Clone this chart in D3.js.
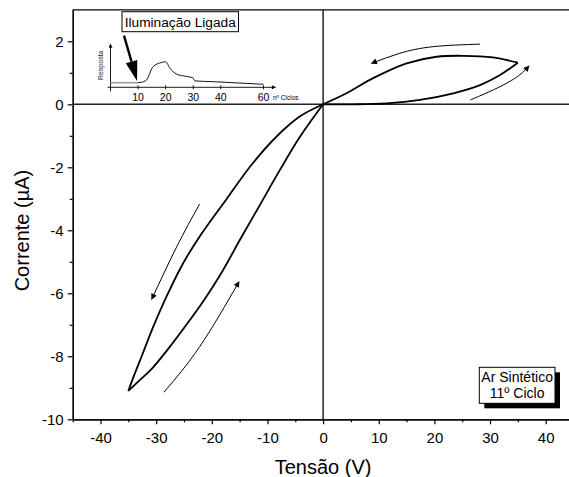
<!DOCTYPE html>
<html>
<head>
<meta charset="utf-8">
<script src="https://cdn.jsdelivr.net/npm/d3@7"></script>
<style>
  html, body { margin: 0; padding: 0; background: #fff; }
  svg { display: block; font-family: "Liberation Sans", Arial, sans-serif; }
</style>
</head>
<body>
<svg id="chart" width="569" height="477"></svg>
<script>
// I–V hysteresis loop, synthetic air, 11th cycle
// Forward sweep 0 → +35 V (lower branch)
const posFwdV = [0, 5.4, 11.4, 17.4, 23.4, 28.2, 31.8, 35.0];
const posFwdI = [0, 0.0, 0.03, 0.14, 0.35, 0.61, 0.93, 1.32];
// Return sweep +35 V → 0 (upper branch)
const posRetV = [35.0, 30.5, 25.2, 20.4, 15.0, 9.0, 4.2, 0];
const posRetI = [1.32, 1.49, 1.54, 1.51, 1.30, 0.83, 0.35, 0];
// Sweep 0 → -35 V
const negFwdV = [0, -4.2, -8.4, -13.0, -17.4, -22.0, -25.0, -28.0, -30.5, -32.5, -34.0, -35.0];
const negFwdI = [0, -0.39, -1.03, -1.95, -3.02, -4.15, -5.0, -6.05, -7.05, -7.95, -8.62, -9.1];
// Return sweep -35 V → 0
const negRetV = [-35.0, -32.9, -30.8, -27.55, -23.95, -21.26, -18.2, -14.97, -11.37, -7.78, -4.19, 0];
const negRetI = [-9.1, -8.75, -8.40, -7.70, -6.85, -6.18, -5.33, -4.31, -3.20, -2.09, -1.04, 0];

// Sweep-direction arrows (V, I)
const arrowTopV = [28.2, 19.8, 13.8, 8.7];
const arrowTopI = [1.91, 1.83, 1.62, 1.30];
const arrowRightV = [26.5, 31.8, 35.3, 37.0];
const arrowRightI = [0.14, 0.56, 0.93, 1.22];
const arrowLeftV = [-22.2, -26.3, -30.8];
const arrowLeftI = [-3.17, -4.52, -6.19];
const arrowLowV = [-28.6, -22.2, -15.1];
const arrowLowI = [-9.14, -7.70, -5.63];

// Axis ticks
const xMajor = [-40, -30, -20, -10, 0, 10, 20, 30, 40];
const xMinor = [-45, -35, -25, -15, -5, 5, 15, 25, 35, 45];
const yMajor = [-10, -8, -6, -4, -2, 0, 2];
const yMinor = [-9, -7, -5, -3, -1, 1];

// Inset: response vs. cycle number
const insetCycles = [0, 10, 12, 13, 15.5, 18.5, 20, 21.6, 24, 27.6, 29.8, 30.6, 37.5, 60];
const insetResp   = [0.115, 0.115, 0.14, 0.18, 0.52, 0.62, 0.64, 0.47, 0.33, 0.27, 0.24, 0.16, 0.14, 0.075];
const insetTicks = [10, 20, 30, 40, 60];
const insetOnCycle = 10;

const labels = {
  x: "Tensão (V)",
  y: "Corrente (\u00B5A)",
  inset: "Iluminação Ligada",
  insetX: "nº Ciclos",
  insetY: "Resposta",
  note: ["Ar Sintético", "11º Ciclo"]
};

const svg = d3.select("#chart");
const x = d3.scaleLinear().domain([-45, 45]).range([72.7, 573.5]);
const y = d3.scaleLinear().domain([-10, 3]).range([419.3, 9.8]);

const zip = (a, b) => a.map((v, i) => [v, b[i]]);
const line = d3.line().x(d => x(d[0])).y(d => y(d[1])).curve(d3.curveCatmullRom.alpha(0.5));
const plain = d => String(d);

// Arrowhead marker
const defs = svg.append("defs");
defs.append("marker")
  .attr("id", "head").attr("viewBox", "0 0 10 10")
  .attr("refX", 9).attr("refY", 5)
  .attr("markerWidth", 9).attr("markerHeight", 6)
  .attr("markerUnits", "userSpaceOnUse")
  .attr("orient", "auto")
  .append("path").attr("d", "M0,0 L10,5 L0,10 Z").attr("fill", "#000");

// Axes
svg.append("g").attr("transform", `translate(0,${y(-10)})`)
  .call(d3.axisBottom(x).tickValues(xMajor).tickSize(5).tickPadding(8).tickSizeOuter(0).tickFormat(plain));
svg.append("g").attr("transform", `translate(0,${y(-10)})`)
  .call(d3.axisBottom(x).tickValues(xMinor).tickSize(3).tickSizeOuter(0).tickFormat(""));
svg.append("g").attr("transform", `translate(${x(-45)},0)`)
  .call(d3.axisLeft(y).tickValues(yMajor).tickSize(5).tickPadding(4).tickSizeOuter(0).tickFormat(plain));
svg.append("g").attr("transform", `translate(${x(-45)},0)`)
  .call(d3.axisLeft(y).tickValues(yMinor).tickSize(3).tickSizeOuter(0).tickFormat(""));
svg.selectAll(".domain").attr("stroke", "#000").attr("stroke-width", 1.2);
svg.selectAll(".tick line").attr("stroke", "#000").attr("stroke-width", 1.2);
svg.selectAll(".tick text").attr("font-size", 15)
  .attr("font-family", "Liberation Sans, Arial, sans-serif").attr("fill", "#000");
// Top frame line
svg.append("line")
  .attr("x1", x(-45)).attr("x2", x(45)).attr("y1", y(3)).attr("y2", y(3))
  .attr("stroke", "#000").attr("stroke-width", 1.2);
// Zero lines
svg.append("line")
  .attr("x1", x(-45)).attr("x2", x(45)).attr("y1", y(0)).attr("y2", y(0))
  .attr("stroke", "#222").attr("stroke-width", 1.4);
svg.append("line")
  .attr("x1", x(0)).attr("x2", x(0)).attr("y1", y(3)).attr("y2", y(-10))
  .attr("stroke", "#111").attr("stroke-width", 1.4);

// Axis titles
svg.append("text").attr("x", x(0)).attr("y", 474).attr("text-anchor", "middle")
  .attr("font-size", 20).text(labels.x);
svg.append("text").attr("transform", `translate(29,${(y(3) + y(-10)) / 2 + 16}) rotate(-90)`)
  .attr("text-anchor", "middle").attr("font-size", 20).text(labels.y);

// Hysteresis loop
[[posFwdV, posFwdI], [posRetV, posRetI], [negFwdV, negFwdI], [negRetV, negRetI]].forEach(([v, i]) => {
  svg.append("path").attr("d", line(zip(v, i)))
    .attr("fill", "none").attr("stroke", "#000").attr("stroke-width", 1.8)
    .attr("stroke-linejoin", "round");
});

// Direction arrows
const arrowLine = d3.line().x(d => x(d[0])).y(d => y(d[1])).curve(d3.curveNatural);
[[arrowTopV, arrowTopI], [arrowRightV, arrowRightI], [arrowLeftV, arrowLeftI], [arrowLowV, arrowLowI]].forEach(([v, i]) => {
  svg.append("path").attr("d", arrowLine(zip(v, i)))
    .attr("fill", "none").attr("stroke", "#000").attr("stroke-width", 1)
    .attr("marker-end", "url(#head)");
});

// Inset
const ix = d3.scaleLinear().domain([0, 40, 60]).range([110.5, 220.8, 263.5]);
const iy = d3.scaleLinear().domain([0, 1]).range([87.3, 47.3]);
const inset = svg.append("g");
defs.append("marker")
  .attr("id", "smallhead").attr("viewBox", "0 0 10 10")
  .attr("refX", 9).attr("refY", 5)
  .attr("markerWidth", 6).attr("markerHeight", 4)
  .attr("markerUnits", "userSpaceOnUse").attr("orient", "auto")
  .append("path").attr("d", "M0,0 L10,5 L0,10 Z").attr("fill", "#000");
inset.append("line").attr("x1", ix(0) - 3).attr("x2", ix(60) + 12).attr("y1", iy(0)).attr("y2", iy(0))
  .attr("stroke", "#000").attr("stroke-width", 0.9).attr("marker-end", "url(#smallhead)");
inset.append("line").attr("x1", ix(0)).attr("x2", ix(0)).attr("y1", iy(0) + 4).attr("y2", iy(1.08))
  .attr("stroke", "#000").attr("stroke-width", 0.9).attr("marker-end", "url(#smallhead)");
insetTicks.forEach(t => {
  inset.append("line").attr("x1", ix(t)).attr("x2", ix(t)).attr("y1", iy(0) - 2).attr("y2", iy(0) + 2)
    .attr("stroke", "#000").attr("stroke-width", 0.9);
  inset.append("text").attr("x", ix(t)).attr("y", 100.5).attr("text-anchor", "middle")
    .attr("font-size", 10.5).text(t);
});
inset.append("text").attr("x", 273).attr("y", 99.5).attr("font-size", 6.5).text(labels.insetX);
inset.append("text").attr("transform", `translate(103,${iy(0.55)}) rotate(-90)`)
  .attr("text-anchor", "middle").attr("font-size", 7).attr("fill", "#222").text(labels.insetY);

const insetPts = zip(insetCycles, insetResp);
const iline = d3.line().x(d => ix(d[0])).y(d => iy(d[1]));
inset.append("path").attr("d", iline(insetPts.filter(d => d[0] <= insetOnCycle)))
  .attr("fill", "none").attr("stroke", "#999").attr("stroke-width", 1.6);
inset.append("path").attr("d", iline.curve(d3.curveMonotoneX)(insetPts.filter(d => d[0] >= insetOnCycle)))
  .attr("fill", "none").attr("stroke", "#111").attr("stroke-width", 1);

// "Iluminação Ligada" label box
const boxX = 122, boxY = 11.7, boxW = 116.5, boxH = 20;
inset.append("rect").attr("x", boxX).attr("y", boxY).attr("width", boxW).attr("height", boxH)
  .attr("fill", "#fff").attr("stroke", "#000").attr("stroke-width", 1);
inset.append("text").attr("x", boxX + boxW / 2).attr("y", boxY + 15).attr("text-anchor", "middle")
  .attr("font-size", 13.7).text(labels.inset);

// Thick pointer from the label down to the start of illumination
const tip = [ix(insetOnCycle) - 1, iy(0.16)];
const start = [124, boxY + boxH + 4];
const ang = Math.atan2(tip[1] - start[1], tip[0] - start[0]);
const headLen = 20, headHalf = 6;
const base = [tip[0] - headLen * Math.cos(ang), tip[1] - headLen * Math.sin(ang)];
inset.append("line").attr("x1", start[0]).attr("y1", start[1]).attr("x2", base[0]).attr("y2", base[1])
  .attr("stroke", "#000").attr("stroke-width", 2.4);
inset.append("path")
  .attr("d", `M${tip[0]},${tip[1]} L${base[0] + headHalf * Math.sin(ang)},${base[1] - headHalf * Math.cos(ang)} L${base[0] - headHalf * Math.sin(ang)},${base[1] + headHalf * Math.cos(ang)} Z`)
  .attr("fill", "#000");

// Condition note with drop shadow
const nX = 479.3, nY = 367.3, nW = 75.7, nH = 36;
svg.append("rect").attr("x", nX + 5).attr("y", nY + 5).attr("width", nW).attr("height", nH).attr("fill", "#000");
svg.append("rect").attr("x", nX).attr("y", nY).attr("width", nW).attr("height", nH)
  .attr("fill", "#fff").attr("stroke", "#000").attr("stroke-width", 1);
labels.note.forEach((t, k) => {
  svg.append("text").attr("x", nX + nW / 2).attr("y", nY + 15 + k * 16).attr("text-anchor", "middle")
    .attr("font-size", 14).text(t);
});
</script>
</body>
</html>
